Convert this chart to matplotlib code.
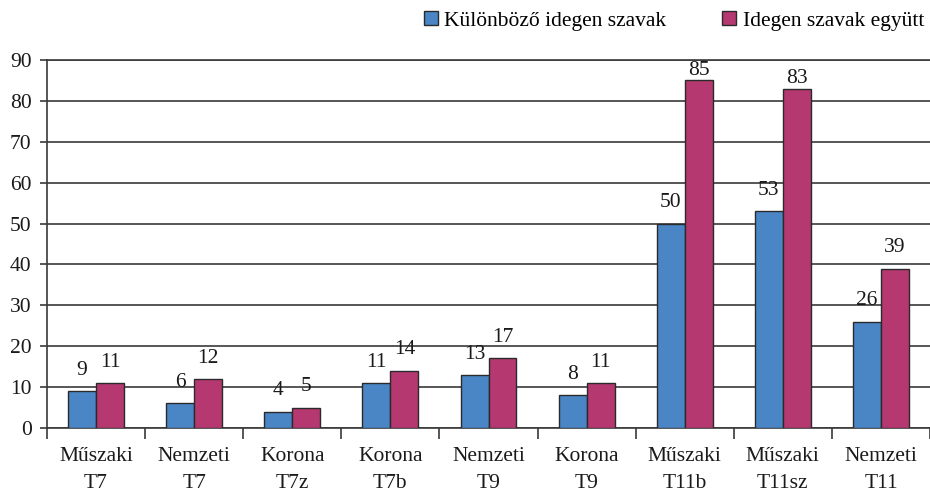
import matplotlib.pyplot as plt
import numpy as np

plt.rcParams['font.family'] = ['Liberation Serif', 'DejaVu Serif']

categories = ["Műszaki\nT7", "Nemzeti\nT7", "Korona\nT7z", "Korona\nT7b", "Nemzeti\nT9",
              "Korona\nT9", "Műszaki\nT11b", "Műszaki\nT11sz", "Nemzeti\nT11"]
kulonbozo = [9, 6, 4, 11, 13, 8, 50, 53, 26]
egyutt = [11, 12, 5, 14, 17, 11, 85, 83, 39]
series_names = ["Különböző idegen szavak", "Idegen szavak együtt"]

blue = "#4a86c6"
magenta = "#b53870"
edge = "#2a2a2a"
grid_c = "#3a3a3a"
fs = 15.5

fig = plt.figure(figsize=(9.3, 4.93), dpi=100)
ax = fig.add_axes([47/930, 1 - 428/493, 1 - 47/930, (428 - 60)/493])

x = np.arange(len(categories))
w = 0.285
b1 = ax.bar(x - w/2, kulonbozo, w, color=blue, edgecolor=edge, linewidth=1.0, zorder=3,
            label=series_names[0])
b2 = ax.bar(x + w/2, egyutt, w, color=magenta, edgecolor=edge, linewidth=1.0, zorder=3,
            label=series_names[1])

ax.set_xlim(-0.5, len(categories) - 0.5)
ax.set_ylim(0, 90)
ax.set_yticks(range(0, 91, 10))
ax.yaxis.grid(True, color=grid_c, linewidth=1.2, zorder=0)
ax.set_axisbelow(True)

# value labels, clamped near the top
for bars, vals in ((b1, kulonbozo), (b2, egyutt)):
    for r, v in zip(bars, vals):
        off = 15 if v < 80 else 7
        ax.annotate(str(v), (r.get_x() + r.get_width()/2, v), xytext=(0, off),
                    textcoords="offset points", ha="center", va="center",
                    fontsize=fs, color="#1a1a1a", zorder=4)

# category boundaries as major ticks, labels on minor ticks
ax.set_xticks(np.arange(-0.5, len(categories) + 0.5, 1))
ax.set_xticklabels([])
ax.set_xticks(x, minor=True)
ax.set_xticklabels(categories, minor=True, fontsize=fs, linespacing=1.55)
ax.tick_params(axis="x", which="major", length=8, width=1.2, color=grid_c, direction="out")
ax.tick_params(axis="x", which="minor", length=0, pad=14, colors="#1a1a1a")
ax.tick_params(axis="y", length=5, width=1.2, color=grid_c, labelsize=fs, pad=6,
               labelcolor="#1a1a1a")

ax.spines["right"].set_visible(False)
for s in ("left", "bottom", "top"):
    ax.spines[s].set_color(grid_c)
    ax.spines[s].set_linewidth(1.2)

fig.legend(handles=[b1, b2], loc="center", bbox_to_anchor=(674/930, 1 - 21/493), ncol=2,
           frameon=False, fontsize=fs, handlelength=0.65, handleheight=0.65,
           handletextpad=0.3, columnspacing=2.6, borderaxespad=0)

fig.savefig("out.png", dpi=100)
